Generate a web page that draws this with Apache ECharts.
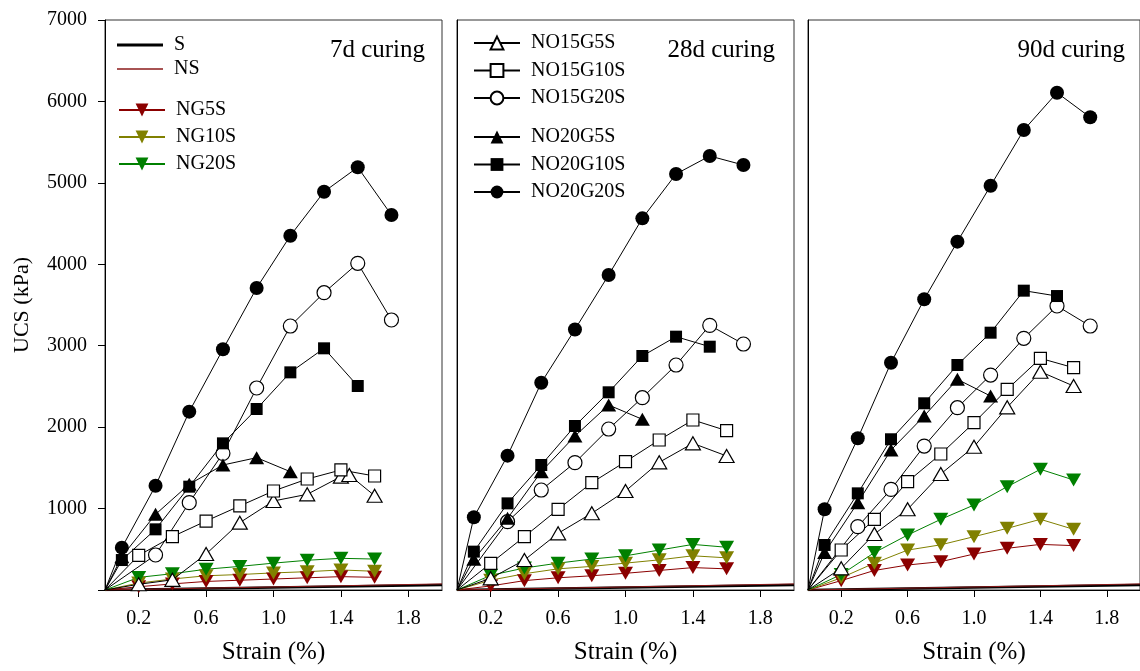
<!DOCTYPE html>
<html>
<head>
<meta charset="utf-8">
<script src="https://cdn.jsdelivr.net/npm/echarts@6/dist/echarts.min.js"></script>
<style>
  html, body { margin: 0; padding: 0; background: #fff; }
  #chart { width: 1140px; height: 671px; }
</style>
</head>
<body>
<div id="chart"></div>
<script>
const curing = ['7d curing', '28d curing', '90d curing'];
const xTicks = [0.2, 0.6, 1.0, 1.4, 1.8];
const yTicks = [1000, 2000, 3000, 4000, 5000, 6000, 7000];

// strain (%) for each group of specimens, the 0 point is the origin
const strainS = [0, 2.0];
const strainEven = [0, 0.2, 0.4, 0.6, 0.8, 1.0, 1.2, 1.4, 1.6];
const strainO15G5S7d = [0, 0.2, 0.4, 0.6, 0.8, 1.0, 1.2, 1.4, 1.45, 1.6];
const strainOdd = [0, 0.1, 0.3, 0.5, 0.7, 0.9, 1.1, 1.3, 1.5, 1.7];
const strainO15G20S = [0, 0.3, 0.5, 0.7, 0.9, 1.1, 1.3, 1.5, 1.7];
const strainO20G10S = [0, 0.1, 0.3, 0.5, 0.7, 0.9, 1.1, 1.3, 1.5];
const strainO20G5S = [0, 0.1, 0.3, 0.5, 0.7, 0.9, 1.1];

// UCS (kPa), rows = 7d, 28d, 90d
const S = [[0, 60], [0, 60], [0, 60]];
const NS = [[0, 75], [0, 75], [0, 75]];
const NG5S = [
  [0, 40, 75, 105, 120, 135, 150, 164, 156],
  [0, 50, 115, 150, 175, 205, 240, 275, 260],
  [0, 115, 240, 307, 348, 442, 512, 560, 545]
];
const NG10S = [
  [0, 85, 135, 175, 190, 210, 225, 246, 230],
  [0, 120, 200, 260, 290, 330, 370, 420, 395],
  [0, 150, 330, 490, 555, 655, 757, 868, 745]
];
const NG20S = [
  [0, 155, 200, 255, 290, 330, 365, 389, 380],
  [0, 180, 270, 330, 380, 420, 490, 560, 525],
  [0, 190, 459, 675, 868, 1044, 1269, 1482, 1351]
];
const NO15G5S = [
  [0, 70, 125, 442, 827, 1093, 1175, 1392, 1412, 1158],
  [0, 143, 368, 696, 942, 1216, 1568, 1801, 1646],
  [0, 266, 688, 991, 1425, 1760, 2243, 2681, 2505]
];
const NO15G10S = [
  [0, 425, 655, 847, 1032, 1216, 1363, 1474, 1400],
  [0, 328, 655, 991, 1318, 1576, 1842, 2088, 1957],
  [0, 491, 868, 1330, 1670, 2055, 2464, 2845, 2730]
];
const NO15G20S = [
  [0, 430, 1073, 1678, 2481, 3242, 3651, 4012, 3316],
  [0, 839, 1228, 1564, 1977, 2362, 2763, 3250, 3021],
  [0, 778, 1236, 1768, 2239, 2640, 3091, 3488, 3242]
];
const NO20G5S = [
  [0, 409, 929, 1298, 1535, 1625, 1453],
  [0, 377, 880, 1453, 1891, 2272, 2096],
  [0, 459, 1073, 1719, 2137, 2587, 2382]
];
const NO20G10S = [
  [0, 368, 745, 1269, 1801, 2223, 2673, 2968, 2505],
  [0, 471, 1064, 1535, 2014, 2428, 2874, 3111, 2988],
  [0, 553, 1187, 1851, 2293, 2763, 3160, 3676, 3610]
];
const NO20G20S = [
  [0, 520, 1281, 2190, 2956, 3709, 4351, 4891, 5191, 4605],
  [0, 893, 1650, 2546, 3200, 3868, 4564, 5109, 5330, 5219],
  [0, 991, 1863, 2791, 3570, 4278, 4965, 5649, 6107, 5805]
];

const FONT = 'Liberation Serif';
const gridLeft = [105, 457, 808];
const titleRight = [425, 775, 1125];

const chart = echarts.init(document.getElementById('chart'));

// one line series, origin point drawn without a marker
const mkLine = (name, p, xs, ys, style) => ({
  type: 'line',
  name: name,
  xAxisIndex: p,
  yAxisIndex: p,
  data: xs.map((x, i) => i === 0 ? { value: [x, ys[i]], symbol: 'none' } : [x, ys[i]]),
  symbol: style.symbol || 'none',
  symbolSize: style.size || 0,
  symbolRotate: style.rotate || 0,
  showAllSymbol: true,
  lineStyle: { color: style.line, width: style.width || 1 },
  itemStyle: {
    color: style.fill,
    borderColor: style.border || style.fill,
    borderWidth: style.border ? 1.2 : 0
  },
  emphasis: { disabled: true },
  z: style.z || 2
});

const series = [];
const grids = [], xAxes = [], yAxes = [];
for (let p = 0; p < 3; p++) {
  grids.push({
    left: gridLeft[p], top: 20, width: 337, height: 570,
    show: true, borderColor: '#333', borderWidth: 1, backgroundColor: 'transparent'
  });
  xAxes.push({
    type: 'value', gridIndex: p, min: 0, max: 2.0,
    name: 'Strain (%)', nameLocation: 'middle', nameGap: 50,
    nameTextStyle: { fontFamily: FONT, fontSize: 25, color: '#000' },
    axisLine: { show: true, onZero: false, lineStyle: { color: '#000', width: 1 } },
    axisTick: { show: true, length: 7, customValues: xTicks, lineStyle: { color: '#000' } },
    axisLabel: {
      customValues: xTicks, margin: 19,
      formatter: v => v.toFixed(1),
      fontFamily: FONT, fontSize: 20, color: '#000'
    },
    splitLine: { show: false }
  });
  yAxes.push({
    type: 'value', gridIndex: p, min: 0, max: 7000, interval: 1000,
    name: p === 0 ? 'UCS (kPa)' : '', nameLocation: 'middle', nameRotate: 90, nameGap: 72,
    nameTextStyle: { fontFamily: FONT, fontSize: 22, color: '#000' },
    axisLine: { show: true, onZero: false, lineStyle: { color: '#000', width: 1 } },
    axisTick: { show: p === 0, length: 7, customValues: [0].concat(yTicks), lineStyle: { color: '#000' } },
    axisLabel: {
      show: p === 0, customValues: yTicks, margin: 18,
      formatter: v => String(v),
      fontFamily: FONT, fontSize: 20, color: '#000'
    },
    splitLine: { show: false }
  });

  series.push(mkLine('S', p, strainS, S[p], { line: '#000', fill: '#000', width: 2.5 }));
  series.push(mkLine('NS', p, strainS, NS[p], { line: '#8b1a1a', fill: '#8b1a1a', width: 1 }));
  series.push(mkLine('NG5S', p, strainEven, NG5S[p], { symbol: 'triangle', rotate: 180, size: [15, 13], line: '#8b0000', fill: '#8b0000' }));
  series.push(mkLine('NG10S', p, strainEven, NG10S[p], { symbol: 'triangle', rotate: 180, size: [15, 13], line: '#808000', fill: '#808000' }));
  series.push(mkLine('NG20S', p, strainEven, NG20S[p], { symbol: 'triangle', rotate: 180, size: [15, 13], line: '#008000', fill: '#008000' }));
  series.push(mkLine('NO15G5S', p, p === 0 ? strainO15G5S7d : strainEven, NO15G5S[p], { symbol: 'triangle', size: [15, 13], line: '#000', fill: '#fff', border: '#000', z: 3 }));
  series.push(mkLine('NO15G10S', p, strainEven, NO15G10S[p], { symbol: 'rect', size: 12, line: '#000', fill: '#fff', border: '#000', z: 3 }));
  series.push(mkLine('NO15G20S', p, strainO15G20S, NO15G20S[p], { symbol: 'circle', size: 14, line: '#000', fill: '#fff', border: '#000', z: 3 }));
  series.push(mkLine('NO20G5S', p, strainO20G5S, NO20G5S[p], { symbol: 'triangle', size: [15, 13], line: '#000', fill: '#000', z: 4 }));
  series.push(mkLine('NO20G10S', p, strainO20G10S, NO20G10S[p], { symbol: 'rect', size: 12, line: '#000', fill: '#000', z: 4 }));
  series.push(mkLine('NO20G20S', p, strainOdd, NO20G20S[p], { symbol: 'circle', size: 14, line: '#000', fill: '#000', z: 4 }));
}

const legendText = { fontFamily: FONT, fontSize: 20, color: '#000', padding: [0, 0, 0, 6] };
const legendBase = {
  orient: 'vertical', padding: 0, itemWidth: 46, itemHeight: 16,
  selectedMode: false, textStyle: legendText
};

const option = {
  animation: false,
  backgroundColor: '#fff',
  grid: grids,
  xAxis: xAxes,
  yAxis: yAxes,
  legend: [
    Object.assign({}, legendBase, { left: 117, top: 35, itemHeight: 3, data: [{ name: 'S', icon: 'rect' }] }),
    Object.assign({}, legendBase, { left: 117, top: 59, itemHeight: 1.5, data: [{ name: 'NS', icon: 'rect' }] }),
    Object.assign({}, legendBase, { left: 118, top: 100, itemGap: 7, data: ['NG5S', 'NG10S', 'NG20S'] }),
    Object.assign({}, legendBase, { left: 473, top: 33, itemGap: 7.5, data: ['NO15G5S', 'NO15G10S', 'NO15G20S'] }),
    Object.assign({}, legendBase, { left: 473, top: 127, itemGap: 7.5, data: ['NO20G5S', 'NO20G10S', 'NO20G20S'] })
  ],
  graphic: curing.map((t, i) => ({
    type: 'text',
    x: titleRight[i],
    y: 50,
    style: {
      text: t, textAlign: 'right', textVerticalAlign: 'middle',
      font: '25px "Liberation Serif"', fill: '#000'
    }
  })),
  series: series
};

chart.setOption(option);
</script>
</body>
</html>
